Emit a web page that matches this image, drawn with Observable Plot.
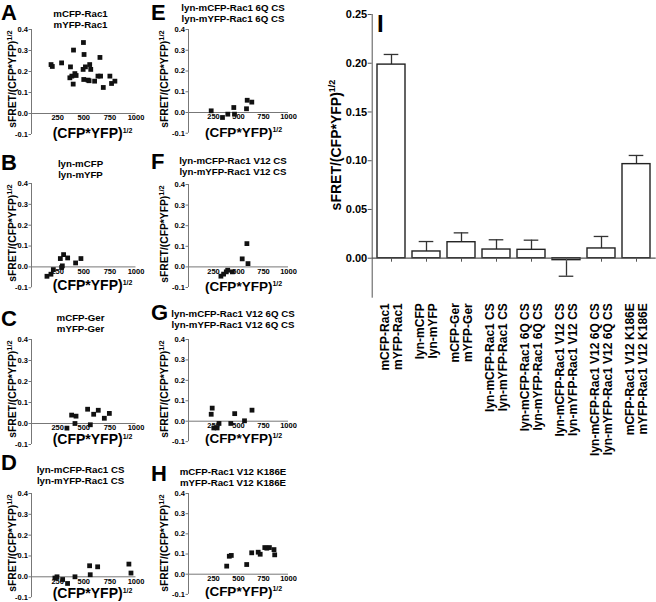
<!DOCTYPE html>
<html><head><meta charset="utf-8">
<script src="https://cdn.jsdelivr.net/npm/d3@7"></script>
<script src="https://cdn.jsdelivr.net/npm/@observablehq/plot@0.6"></script>
<style>
body{margin:0;background:#fff;}
#root{position:relative;width:656px;height:602px;overflow:hidden;font-family:"Liberation Sans",Arial,Helvetica,sans-serif;color:#000;}
.t{position:absolute;white-space:nowrap;font-weight:bold;line-height:0.8;}
svg{position:absolute;overflow:visible;}
</style></head>
<body><div id="root"></div>
<script>
// ---------- data ----------
const scatterXTicks = [250, 500, 750, 1000];
const scatterYTicks = [-0.1, 0, 0.1, 0.2, 0.3, 0.4];

const panelA_title = ["mCFP-Rac1", "mYFP-Rac1"];
const panelA_x = [187, 199, 288, 373, 402, 367, 386, 399, 415, 427, 497, 503, 494, 516, 500, 541, 551, 557, 567, 604, 655, 636, 661, 687, 750, 766, 798];
const panelA_y = [0.233, 0.224, 0.241, 0.222, 0.302, 0.170, 0.178, 0.140, 0.190, 0.181, 0.338, 0.281, 0.210, 0.222, 0.162, 0.159, 0.156, 0.233, 0.210, 0.154, 0.267, 0.178, 0.178, 0.124, 0.178, 0.143, 0.154];

const panelB_title = ["lyn-mCFP", "lyn-mYFP"];
const panelB_x = [148, 186, 209, 276, 288, 295, 307, 346, 422, 473];
const panelB_y = [-0.045, -0.035, -0.013, 0.040, -0.003, 0.005, 0.059, 0.043, 0.019, 0.040];

const panelC_title = ["mCFP-Ger", "mYFP-Ger"];
const panelC_x = [339, 384, 426, 416, 537, 563, 595, 639, 697, 745];
const panelC_y = [-0.022, 0.040, 0.035, 0.000, 0.068, -0.006, 0.044, 0.063, 0.025, 0.048];

const panelD_title = ["lyn-mCFP-Rac1 CS", "lyn-mYFP-Rac1 CS"];
const panelD_x = [224, 244, 298, 345, 416, 556, 562, 633, 932, 952];
const panelD_y = [-0.006, 0.000, -0.013, -0.032, 0.000, 0.053, 0.010, 0.048, 0.061, 0.018];

const panelE_title = ["lyn-mCFP-Rac1 6Q CS", "lyn-mYFP-Rac1 6Q CS"];
const panelE_x = [227, 340, 393, 453, 460, 580, 587, 633];
const panelE_y = [0.008, -0.024, -0.008, 0.024, -0.008, 0.018, 0.059, 0.050];

const panelF_title = ["lyn-mCFP-Rac1 V12 CS", "lyn-mYFP-Rac1 V12 CS"];
const panelF_x = [324, 351, 378, 392, 439, 537, 584, 595];
const panelF_y = [-0.045, -0.035, -0.024, -0.016, -0.024, 0.039, 0.113, 0.016];

const panelG_title = ["lyn-mCFP-Rac1 V12 6Q CS", "lyn-mYFP-Rac1 V12 6Q CS"];
const panelG_x = [227, 237, 253, 286, 305, 423, 462, 560, 635];
const panelG_y = [0.034, 0.064, -0.033, -0.033, -0.011, -0.011, 0.037, 0.002, 0.054];

const panelH_title = ["mCFP-Rac1 V12 K186E", "mYFP-Rac1 V12 K186E"];
const panelH_x = [382, 408, 428, 582, 632, 697, 717, 763, 783, 809, 855, 862];
const panelH_y = [0.040, 0.089, 0.093, 0.048, 0.106, 0.109, 0.099, 0.132, 0.129, 0.132, 0.122, 0.096];

const barLine1 = ["mCFP-Rac1", "lyn-mCFP", "mCFP-Ger", "lyn-mCFP-Rac1 CS", "lyn-mCFP-Rac1 6Q CS", "lyn-mCFP-Rac1 V12 CS", "lyn-mCFP-Rac1 V12 6Q CS", "mCFP-Rac1 V12 K186E"];
const barLine2 = ["mYFP-Rac1", "lyn-mYFP", "mYFP-Ger", "lyn-mYFP-Rac1 CS", "lyn-mYFP-Rac1 6Q CS", "lyn-mYFP-Rac1 V12 CS", "lyn-mYFP-Rac1 V12 6Q CS", "mYFP-Rac1 V12 K186E"];
const barMeans = [0.1986, 0.0069, 0.0164, 0.0089, 0.0086, -0.0020, 0.0100, 0.0965];
const barErrors = [0.0104, 0.0102, 0.0096, 0.0100, 0.0099, 0.0165, 0.0123, 0.0089];
const barYTicks = [0, 0.05, 0.10, 0.15, 0.20, 0.25];

// ---------- layout ----------
const FONT = '"Liberation Sans", Arial, Helvetica, sans-serif';
const BASE = 0.7465; // baseline offset (em) for line-height 0.8
const root = document.getElementById("root");
function txt(html, css) {
  const d = document.createElement("div");
  d.className = "t";
  d.innerHTML = html;
  Object.assign(d.style, css);
  root.appendChild(d);
  return d;
}

const panels = [
  {L:"A", col:0, title:panelA_title, xs:panelA_x, ys:panelA_y, y04:29.3, y0:113.3, letterBase:20.3, tc:[14.5,25.0], xlabBase:138.8},
  {L:"B", col:0, title:panelB_title, xs:panelB_x, ys:panelB_y, y04:183.3, y0:266.7, letterBase:170.7, tc:[164,174], xlabBase:290.5},
  {L:"C", col:0, title:panelC_title, xs:panelC_x, ys:panelC_y, y04:338.7, y0:422.7, letterBase:326.7, tc:[318.3,328.3], xlabBase:444.8},
  {L:"D", col:0, title:panelD_title, xs:panelD_x, ys:panelD_y, y04:492.7, y0:576, letterBase:470.7, tc:[471,480], xlabBase:598},
  {L:"E", col:1, title:panelE_title, xs:panelE_x, ys:panelE_y, y04:29.3, y0:112.3, letterBase:20.3, tc:[9.3,18.3], xlabBase:137.8},
  {L:"F", col:1, title:panelF_title, xs:panelF_x, ys:panelF_y, y04:184.3, y0:266.7, letterBase:169, tc:[161.7,170.7], xlabBase:291.7},
  {L:"G", col:1, title:panelG_title, xs:panelG_x, ys:panelG_y, y04:339.3, y0:421, letterBase:320.7, tc:[315,323.3], xlabBase:444.5},
  {L:"H", col:1, title:panelH_title, xs:panelH_x, ys:panelH_y, y04:493.3, y0:574, letterBase:481.7, tc:[473.3,481.7], xlabBase:597.5}
];

for (const p of panels) {
  const cellLeft = p.col ? 155 : 0;
  const xr = p.col ? [188, 288] : [31, 135.5];
  const W = 155;
  const per01 = (p.y0 - p.y04) / 4;
  const yBottom = p.y0 + per01;
  const top = p.y04 - 30;
  const frameH = yBottom - p.y04;
  const H = 30 + frameH + 20;
  const idx = d3.range(p.xs.length);
  const svg = Plot.plot({
    width: W, height: H,
    marginLeft: xr[0] - cellLeft, marginRight: cellLeft + W - xr[1],
    marginTop: 30, marginBottom: 20,
    x: {domain: [0, 1000], axis: null},
    y: {domain: [-0.1, 0.4]},
    style: {fontFamily: FONT, background: "transparent", color: "#000"},
    marks: [
      Plot.ruleY([0], {stroke: "#777", strokeWidth: 1}),
      Plot.ruleX([0], {stroke: "#777", strokeWidth: 1}),
      Plot.axisY({ticks: scatterYTicks, tickFormat: d => d.toFixed(1), tickSize: 2.5, tickPadding: 1, stroke: "#777", fill: "#000", fontSize: 7.5, fontWeight: "bold", label: null}),
      Plot.text(scatterXTicks, {x: d => d, y: 0, dy: 4.5, text: d => String(d), fontSize: 7.5, fontWeight: "bold", fill: "#000"}),
      Plot.dot(idx, {x: i => p.xs[i], y: i => p.ys[i], symbol: "square", r: 2.7, fill: "#111", stroke: "none"})
    ]
  });
  svg.style.left = cellLeft + "px";
  svg.style.top = top + "px";
  root.appendChild(svg);

  // panel letter
  txt(p.L, {left: (p.col ? 151 : 1) + "px", top: (p.letterBase - BASE * 22) + "px", fontSize: "22px"});
  // titles (two lines)
  const tcx = p.col ? 233 : 80.5;
  const mid = (p.tc[0] + p.tc[1]) / 2;
  p.title.forEach((s, i) => {
    const cy = mid + (i === 0 ? -5.5 : 5.5);
    txt(s, {left: tcx + "px", top: cy + "px", fontSize: "9.7px", transform: "translate(-50%,-50%)"});
  });
  // y label
  const ylx = p.col ? 165 : 12.7;
  txt('sFRET/(CFP*YFP)<span style="font-size:7.5px;position:relative;top:-4.5px">1/2</span>',
      {left: ylx + "px", top: (p.y04 + 50) + "px", fontSize: "10.3px", transform: "translate(-50%,-50%) rotate(-90deg)"});
  // x label
  const xfs = p.col ? 13.5 : 14;
  const xlx = p.col ? 243.5 : 92.5;
  txt('(CFP*YFP)<span style="font-size:7px;position:relative;top:-5px">1/2</span>',
      {left: xlx + "px", top: (p.xlabBase - BASE * xfs) + "px", fontSize: xfs + "px", transform: "translateX(-50%)"});
}

// ---------- bar chart I ----------
const barKeys = barLine1.map((s, i) => i);
const barData = barKeys.map(i => ({k: i, m: barMeans[i], e: barErrors[i], end: barMeans[i] >= 0 ? barMeans[i] + barErrors[i] : barMeans[i] - barErrors[i]}));
const barSvg = Plot.plot({
  width: 356, height: 602,
  marginLeft: 71.7, marginRight: 0.3, marginTop: 14, marginBottom: 305.3,
  x: {domain: barKeys, paddingInner: 0.2, paddingOuter: 0.1},
  y: {domain: [-0.04, 0.25]},
  style: {fontFamily: FONT, background: "transparent", color: "#000"},
  marks: [
    Plot.frame({anchor: "left", stroke: "#555"}),
    Plot.axisY({ticks: barYTicks, tickFormat: d => d.toFixed(2), tickSize: 4, tickPadding: 1, stroke: "#555", fill: "#000", fontSize: 11, fontWeight: "bold", label: null}),
    Plot.axisX({tickSize: 0, tickPadding: 6, tickRotate: -90, tickFormat: i => barLine1[i] + "\n" + barLine2[i], fontSize: 12, fontWeight: "bold", lineHeight: 1.1, label: null, fill: "#000"}),
    Plot.ruleX(barData, {x: "k", y1: "m", y2: "end", stroke: "#333", strokeWidth: 1.3}),
    Plot.tickY(barData, {x: "k", y: "end", stroke: "#333", strokeWidth: 1.3, insetLeft: 6.7, insetRight: 6.7}),
    Plot.barY(barData, {x: "k", y: "m", fill: "white", stroke: "#222", strokeWidth: 1.4}),
    Plot.ruleY([0], {stroke: "#555", strokeWidth: 1.2}),
    Plot.ruleX(barKeys, {x: d => d, y1: 0, y2: 0, insetBottom: -4, stroke: "#555"})
  ]
});
barSvg.style.left = "300px";
barSvg.style.top = "0px";
root.appendChild(barSvg);

txt("I", {left: "377px", top: (31.7 - BASE * 24) + "px", fontSize: "24px"});
txt('sFRET/(CFP*YFP)<span style="font-size:9px;position:relative;top:-6px">1/2</span>',
    {left: "337px", top: "145px", fontSize: "14px", transform: "translate(-50%,-50%) rotate(-90deg)"});
</script>
</body></html>
